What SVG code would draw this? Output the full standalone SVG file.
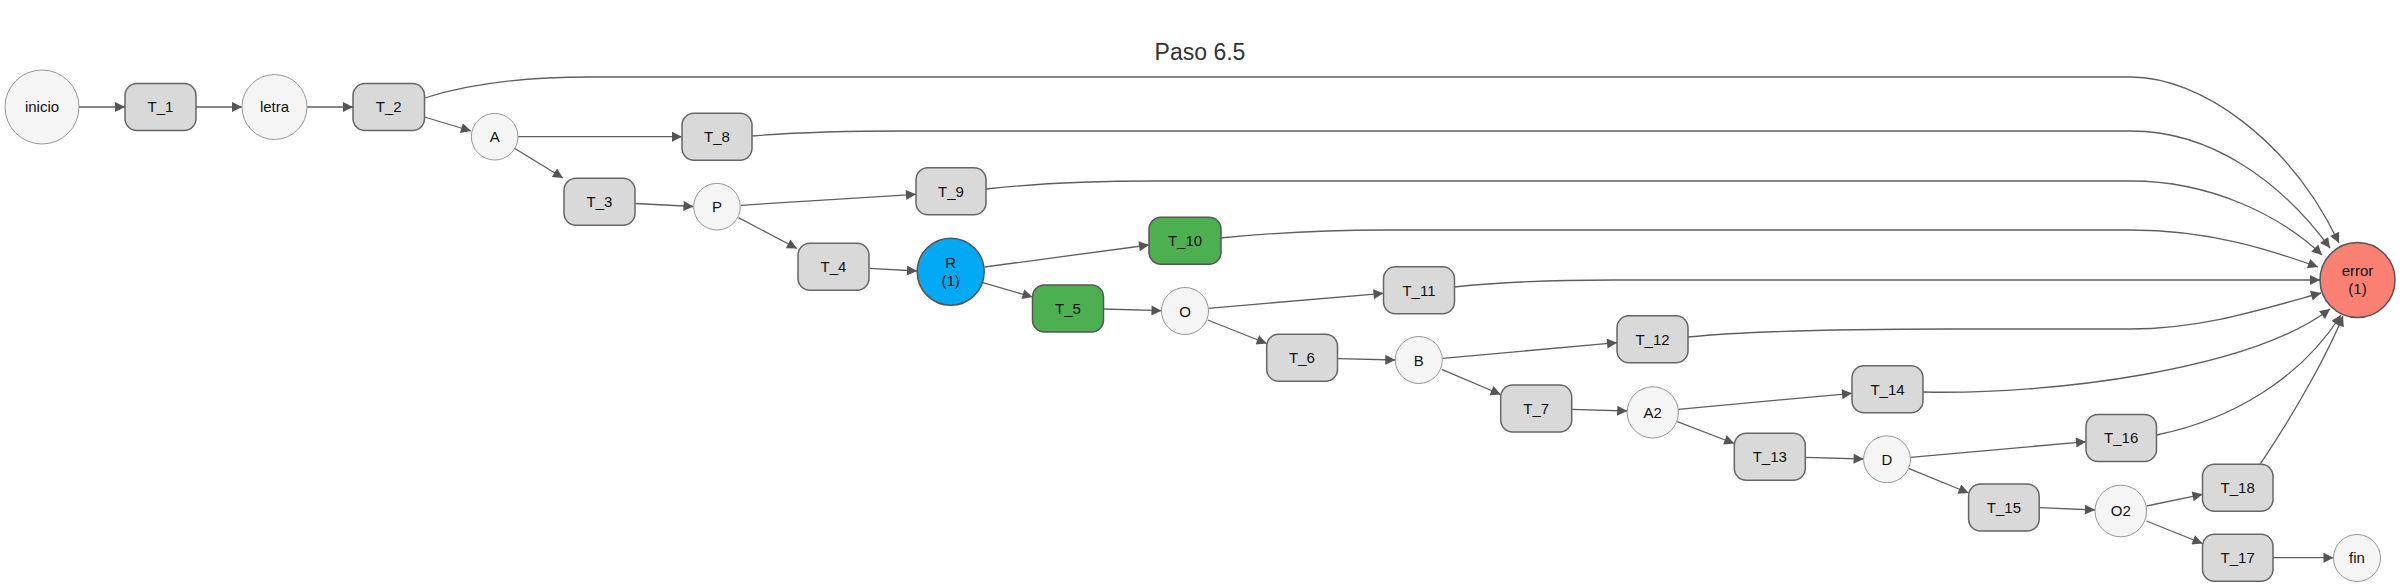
<svg xmlns="http://www.w3.org/2000/svg" width="2400" height="587" viewBox="0 0 2400 587">
<defs>
<marker id="arr" viewBox="0 0 10 10" refX="10" refY="5" markerWidth="13" markerHeight="10" markerUnits="userSpaceOnUse" orient="auto"><path d="M0,0 L10,5 L0,10 z" fill="#555"/></marker>
</defs>
<style>
text{font-family:"Liberation Sans",Arial,sans-serif;font-size:15px;fill:#111;text-anchor:middle}
.title{font-size:23px;fill:#333}
.e{fill:none;stroke:#5f5f5f;stroke-width:1.3;marker-end:url(#arr)}
.t{fill:#d9d9d9;stroke:#666;stroke-width:1.5}
.g{fill:#4caf50;stroke:#555;stroke-width:1.5}
.c{fill:#f5f5f5;stroke:#999;stroke-width:1}
.blue{fill:#03a9f4;stroke:#555;stroke-width:1.5}
.red{fill:#fa8072;stroke:#555;stroke-width:1.5}
</style>
<rect width="2400" height="587" fill="#fff"/>
<text class="title" x="1200" y="60">Paso 6.5</text>
<g id="edges">
<path class="e" d="M79,107 L125,107"/>
<path class="e" d="M196,107 L242,107"/>
<path class="e" d="M307,107 L353,107"/>
<path class="e" d="M424.5,117 L471,131"/>
<path class="e" d="M424.5,98 C480,80 540,77 590,77 L2131,77 C2200,77 2290,140 2339,243"/>
<path class="e" d="M518,136.7 L682,136.7"/>
<path class="e" d="M514,148 L563,178"/>
<path class="e" d="M752,136 C800,132 850,131 905,131 L2131,131 C2210,131 2280,180 2330,248"/>
<path class="e" d="M635.5,203.5 L693.5,206.5"/>
<path class="e" d="M740.5,205.3 L916,194.3"/>
<path class="e" d="M738.5,217.7 L797,248.5"/>
<path class="e" d="M986,189 C1040,183 1100,181 1155,181 L2131,181 C2210,181 2280,215 2322,255"/>
<path class="e" d="M869.5,268.3 L917,271"/>
<path class="e" d="M984.5,267 L1149,245"/>
<path class="e" d="M983,282.7 L1032.5,297"/>
<path class="e" d="M1220,238 C1280,232 1330,230 1385,230 L2131,230 C2210,230 2270,250 2318,267"/>
<path class="e" d="M1103.5,309 L1161.5,310.7"/>
<path class="e" d="M1208,308.3 L1383.5,293.3"/>
<path class="e" d="M1207.8,320 L1266.7,343.5"/>
<path class="e" d="M1454.5,287 C1500,282 1560,280 1614,280 L2320,280"/>
<path class="e" d="M1337.5,358.7 L1395.3,360"/>
<path class="e" d="M1442.5,358.3 L1617,342.7"/>
<path class="e" d="M1441.7,369.3 L1500.7,394.5"/>
<path class="e" d="M1688,337 C1750,331 1850,329 1950,329 L2130,329 C2200,329 2260,310 2321,293"/>
<path class="e" d="M1571.7,409.3 L1627.2,411"/>
<path class="e" d="M1678.3,409.3 L1852,393.3"/>
<path class="e" d="M1677.3,421.7 L1734.3,443.5"/>
<path class="e" d="M1923,392 C2050,395 2250,370 2330,309"/>
<path class="e" d="M1805.3,457.3 L1863.6,459"/>
<path class="e" d="M1910.4,457.3 L2086,441.7"/>
<path class="e" d="M1908.5,468.3 L1968.6,493"/>
<path class="e" d="M2156.5,435 C2230,420 2300,380 2341,315"/>
<path class="e" d="M2039.2,507.7 L2095,510"/>
<path class="e" d="M2146.6,506 L2202.5,494.3"/>
<path class="e" d="M2146.4,521 L2202.5,543.5"/>
<path class="e" d="M2260,464.3 C2290,420 2325,360 2343,316"/>
<path class="e" d="M2273,557.7 L2333.5,557.7"/>
</g>
<g id="inicio"><circle class="c" cx="42" cy="107" r="37"/><text x="42" y="112">inicio</text></g>
<g id="T_1"><rect class="t" x="125" y="83.5" width="71" height="47" rx="12"/><text x="160.5" y="112">T_1</text></g>
<g id="letra"><circle class="c" cx="274.5" cy="107" r="32.5"/><text x="274.5" y="112">letra</text></g>
<g id="T_2"><rect class="t" x="353" y="83.5" width="71.5" height="47" rx="12"/><text x="388.7" y="112">T_2</text></g>
<g id="A"><circle class="c" cx="494.7" cy="136.7" r="23.3"/><text x="494.7" y="142">A</text></g>
<g id="T_8"><rect class="t" x="682" y="113.3" width="70" height="47" rx="12"/><text x="717" y="142">T_8</text></g>
<g id="T_3"><rect class="t" x="564" y="178.3" width="71" height="47" rx="12"/><text x="599.5" y="207">T_3</text></g>
<g id="P"><circle class="c" cx="717" cy="206.7" r="23.3"/><text x="717" y="212">P</text></g>
<g id="T_9"><rect class="t" x="916" y="167.7" width="70" height="47" rx="12"/><text x="951" y="196.5">T_9</text></g>
<g id="T_4"><rect class="t" x="798" y="243.3" width="71" height="47" rx="12"/><text x="833.5" y="272">T_4</text></g>
<g id="R"><circle class="blue" cx="950.7" cy="271.7" r="33.5"/><text x="950.7" y="267.5">R</text><text x="950.7" y="285.5">(1)</text></g>
<g id="T_10"><rect class="g" x="1149" y="217.3" width="72" height="47" rx="12"/><text x="1185" y="246">T_10</text></g>
<g id="T_5"><rect class="g" x="1032.5" y="285" width="71" height="47" rx="12"/><text x="1068" y="314">T_5</text></g>
<g id="O"><circle class="c" cx="1185" cy="311" r="23.5"/><text x="1185" y="316.5">O</text></g>
<g id="T_11"><rect class="t" x="1383.5" y="266.7" width="71" height="47" rx="12"/><text x="1419" y="295.5">T_11</text></g>
<g id="T_6"><rect class="t" x="1266.7" y="334.3" width="70.8" height="47" rx="12"/><text x="1302" y="363">T_6</text></g>
<g id="B"><circle class="c" cx="1418.8" cy="360" r="23.5"/><text x="1418.8" y="365.5">B</text></g>
<g id="T_12"><rect class="t" x="1617" y="315.7" width="71" height="47" rx="12"/><text x="1652.5" y="344.5">T_12</text></g>
<g id="T_7"><rect class="t" x="1500.7" y="385" width="71" height="47" rx="12"/><text x="1536.2" y="413.8">T_7</text></g>
<g id="A2"><circle class="c" cx="1652.8" cy="412.4" r="25.6"/><text x="1652.8" y="417.8">A2</text></g>
<g id="T_14"><rect class="t" x="1852" y="365.7" width="71" height="47" rx="12"/><text x="1887.5" y="394.5">T_14</text></g>
<g id="T_13"><rect class="t" x="1734.3" y="433.3" width="71" height="47" rx="12"/><text x="1769.8" y="462">T_13</text></g>
<g id="D"><circle class="c" cx="1887" cy="459.3" r="23.4"/><text x="1887" y="464.7">D</text></g>
<g id="T_16"><rect class="t" x="2086" y="414.5" width="70.5" height="47" rx="12"/><text x="2121.2" y="443.2">T_16</text></g>
<g id="T_15"><rect class="t" x="1968.6" y="484" width="70.6" height="47" rx="12"/><text x="2003.9" y="512.8">T_15</text></g>
<g id="O2"><circle class="c" cx="2120.8" cy="511" r="25.8"/><text x="2120.8" y="516.4">O2</text></g>
<g id="T_18"><rect class="t" x="2202.5" y="464.3" width="70.5" height="47" rx="12"/><text x="2237.7" y="493">T_18</text></g>
<g id="T_17"><rect class="t" x="2202.5" y="534.3" width="70.5" height="47" rx="12"/><text x="2237.7" y="563">T_17</text></g>
<g id="fin"><circle class="c" cx="2357" cy="558" r="23.5"/><text x="2357" y="563.4">fin</text></g>
<g id="error"><circle class="red" cx="2357.5" cy="280" r="37.5"/><text x="2357.5" y="276">error</text><text x="2357.5" y="294">(1)</text></g>
</svg>
